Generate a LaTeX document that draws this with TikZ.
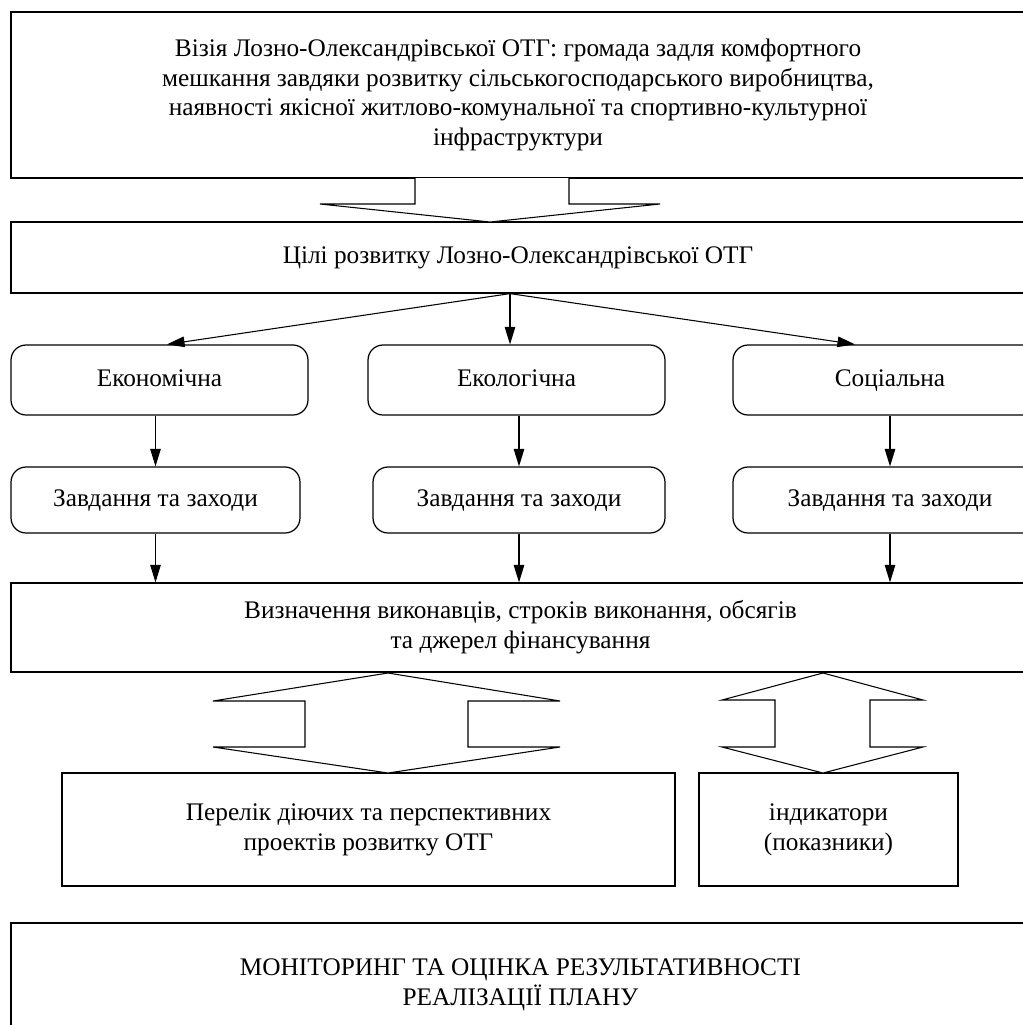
\documentclass[tikz,border=0pt]{standalone}
\usepackage{fontspec}
\setmainfont{Liberation Serif}
\usetikzlibrary{arrows.meta}
\tikzset{
    txt/.style={font=\fontsize{14.4}{17}\selectfont, align=center, inner sep=0pt},
    box/.style={txt, draw=black, line width=0.7pt, rectangle},
    rbox/.style={box, rounded corners=0.3cm, text height=10pt, text depth=3pt},
    arr/.style={line width=0.6pt, -{Triangle[length=10pt,width=6pt]}},
    hollow/.style={draw=black, line width=0.6pt, fill=white},
}

\begin{document}
\begin{tikzpicture}[x=0.02cm, y=-0.02cm]
    \useasboundingbox (0,0) rectangle (1023,1025);
    \clip (0,0) rectangle (1023,1025);

    \node[box, minimum width=20.28cm, minimum height=3.32cm] (vis) at (518, 95){Візія Лозно-Олександрівської ОТГ: громада задля комфортного\\мешкання завдяки розвитку сільськогосподарського виробництва,\\наявності якісної житлово-комунальної та спортивно-культурної\\інфраструктури};
    \node[box, minimum width=20.28cm, minimum height=1.42cm] (goal) at (518, 257.5){Цілі розвитку Лозно-Олександрівської ОТГ};

    \node[rbox, minimum width=5.94cm, minimum height=1.4cm] (econ) at (159.5, 380){Економічна};
    \node[rbox, minimum width=5.94cm, minimum height=1.4cm] (ecol) at (516.5, 380){Екологічна};
    \node[rbox, minimum width=6.28cm, minimum height=1.4cm] (soc) at (890, 380){Соціальна};

    \node[rbox, minimum width=5.78cm, minimum height=1.32cm] (taskEc) at (155.5, 500){Завдання та заходи};
    \node[rbox, minimum width=5.84cm, minimum height=1.32cm] (taskEl) at (519, 500){Завдання та заходи};
    \node[rbox, minimum width=6.28cm, minimum height=1.32cm] (taskSo) at (890, 500){Завдання та заходи};

    \node[box, minimum width=20.38cm, minimum height=1.78cm] (def) at (520.5, 627.5){Визначення виконавців, строків виконання, обсягів\\та джерел фінансування};

    \node[box, minimum width=12.26cm, minimum height=2.26cm] (proj) at (368.5, 829.5){Перелік діючих та перспективних\\проектів розвитку ОТГ};
    \node[box, minimum width=5.18cm, minimum height=2.26cm] (ind) at (828.5, 829.5){індикатори\\(показники)};

    \node[box, minimum width=20.38cm, minimum height=2.48cm] (mon) at (520.5, 985){МОНІТОРИНГ ТА ОЦІНКА РЕЗУЛЬТАТИВНОСТІ\\РЕАЛІЗАЦІЇ ПЛАНУ};

    % block arrows
    \draw[hollow] (415,178) -- (415,204) -- (320,204) -- (490,222) -- (660,204) -- (569,204) -- (569,178);
    \draw[hollow] (388,673) -- (560,701) -- (468,701) -- (468,747) -- (560,747) -- (388,773) -- (213,747) -- (305,747) -- (305,701) -- (213,701) -- cycle;
    \draw[hollow] (823,673) -- (923,700) -- (870,700) -- (870,747) -- (923,747) -- (823,773) -- (722,747) -- (775,747) -- (775,700) -- (722,700) -- cycle;

    % connectors
    \coordinate (gs) at ([xshift=-0.16cm]goal.south);
    \draw[arr] (gs) -- ([xshift=0.15cm]econ.north);
    \draw[arr] (gs) -- (gs |- ecol.north);
    \draw[arr] (gs) -- ([xshift=-0.7cm]soc.north);

    \draw[arr] (taskEc.north |- econ.south) -- (taskEc.north);
    \draw[arr] (ecol.south -| taskEl.north) -- (taskEl.north);
    \draw[arr] (soc.south) -- (taskSo.north);

    \draw[arr] (taskEc.south) -- (taskEc.south |- def.north);
    \draw[arr] (taskEl.south) -- (taskEl.south |- def.north);
    \draw[arr] (taskSo.south) -- (taskSo.south |- def.north);
\end{tikzpicture}
\end{document}
